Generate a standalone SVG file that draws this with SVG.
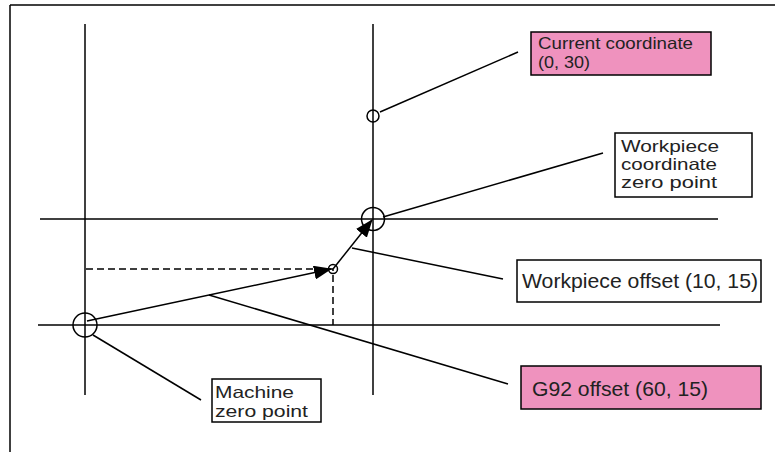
<svg xmlns="http://www.w3.org/2000/svg" width="775" height="452" viewBox="0 0 775 452">
<style>
.ln{stroke:#000;stroke-width:1.5;fill:none}
.dash{stroke:#000;stroke-width:1.5;fill:none;stroke-dasharray:7,4}
.box{stroke:#000;stroke-width:1.5;fill:#fff}
.pink{stroke:#000;stroke-width:1.5;fill:#EF92BE}
.t{font-family:"Liberation Sans",Arial,sans-serif;font-size:16.5px;fill:#222}
.tb{font-family:"Liberation Sans",Arial,sans-serif;font-size:21px;fill:#222}
</style>
<defs>
<marker id="ah" viewBox="0 0 18 14" refX="17" refY="7" markerWidth="18" markerHeight="14" markerUnits="userSpaceOnUse" orient="auto">
<path d="M0,0 L18,7 L0,14 Z" fill="#000"/>
</marker>
</defs>
<rect width="775" height="452" fill="#fff"/>
<g id="frame">
<line class="ln" x1="10" y1="5" x2="775" y2="5" stroke-width="2"/>
<line class="ln" x1="10" y1="5" x2="10" y2="452"/>
</g>
<g id="axes">
<line class="ln" x1="85" y1="24" x2="85" y2="395"/>
<line class="ln" x1="373" y1="24" x2="373" y2="395"/>
<line class="ln" x1="40" y1="219" x2="718" y2="219"/>
<line class="ln" x1="38" y1="325" x2="720" y2="325"/>
</g>
<g id="points">
<circle class="ln" cx="85" cy="325" r="12"/>
<circle class="ln" cx="373" cy="219" r="11.5"/>
<circle class="ln" cx="333" cy="269" r="4.5"/>
<circle class="ln" cx="373" cy="116" r="6"/>
</g>
<g id="connectors">
<polyline class="dash" points="86,269 333,269 333,325"/>
<line class="ln" x1="87" y1="321" x2="331" y2="269" marker-end="url(#ah)"/>
<line class="ln" x1="333" y1="269" x2="372" y2="220" marker-end="url(#ah)"/>
<line class="ln" x1="380" y1="112" x2="518" y2="52"/>
<line class="ln" x1="383" y1="217" x2="603" y2="153"/>
<line class="ln" x1="352" y1="248" x2="503" y2="279"/>
<line class="ln" x1="209" y1="295" x2="508" y2="384"/>
<line class="ln" x1="93" y1="335" x2="201" y2="400"/>
</g>
<g id="current-coordinate">
<rect class="pink" x="531" y="32" width="180" height="43"/>
<text class="t" x="538" y="49" textLength="155" lengthAdjust="spacingAndGlyphs">Current coordinate</text>
<text class="t" x="538" y="68" textLength="52" lengthAdjust="spacingAndGlyphs">(0, 30)</text>
</g>
<g id="workpiece-zero">
<rect class="box" x="615" y="133" width="137" height="64"/>
<text class="t" x="621" y="152" textLength="98" lengthAdjust="spacingAndGlyphs">Workpiece</text>
<text class="t" x="621" y="170" textLength="96" lengthAdjust="spacingAndGlyphs">coordinate</text>
<text class="t" x="621" y="188" textLength="96" lengthAdjust="spacingAndGlyphs">zero point</text>
</g>
<g id="workpiece-offset">
<rect class="box" x="517" y="260" width="244" height="42"/>
<text class="tb" x="522" y="288" textLength="236" lengthAdjust="spacingAndGlyphs">Workpiece offset (10, 15)</text>
</g>
<g id="g92-offset">
<rect class="pink" x="521" y="366" width="240" height="43"/>
<text class="tb" x="532" y="396" textLength="176" lengthAdjust="spacingAndGlyphs">G92 offset (60, 15)</text>
</g>
<g id="machine-zero">
<rect class="box" x="212" y="379" width="109" height="43"/>
<text class="t" x="215" y="398" textLength="79" lengthAdjust="spacingAndGlyphs">Machine</text>
<text class="t" x="215" y="417" textLength="93" lengthAdjust="spacingAndGlyphs">zero point</text>
</g>
</svg>
